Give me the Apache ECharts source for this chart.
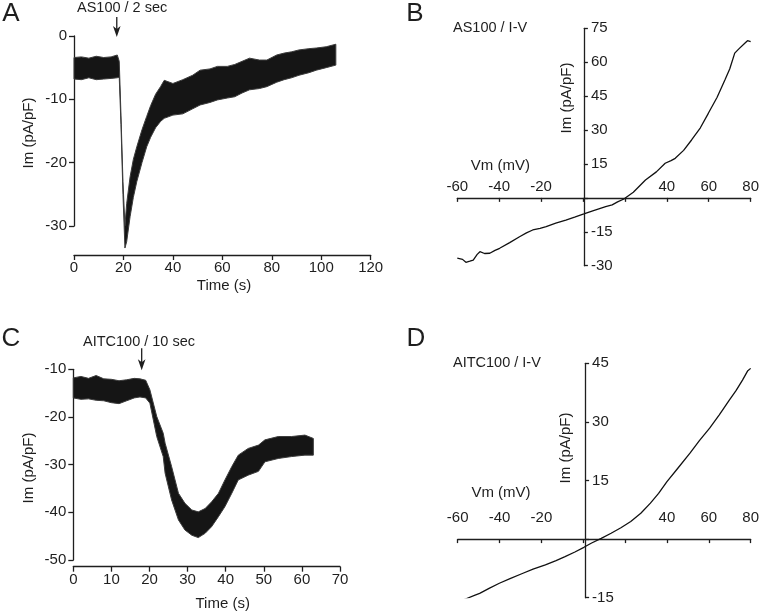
<!DOCTYPE html>
<html><head><meta charset="utf-8">
<script src="https://cdn.jsdelivr.net/npm/echarts@6/dist/echarts.min.js"></script>
<style>html,body{margin:0;padding:0;background:#fff}#c{width:762px;height:612px}</style>
</head><body><div id="c"></div>
<script>
// ---- Panel A: AS100 / 2 sec, noisy current trace (upper / lower envelope of the band)
const timeA = [0, 3, 6, 9, 12, 15, 17.5, 18.3, 19.0, 19.8, 20.6, 21.3, 22.7, 24, 25.4, 27.5, 29.4, 31, 33, 35, 36.5, 40, 44, 48, 51, 55, 58, 62, 65, 68, 71, 75, 78, 82, 85, 88, 91, 95, 98, 102, 105.9];
const hiA   = [-3.4, -3.3, -3.5, -3.2, -3.4, -3.3, -3.0, -4.0, -12.5, -23, -30, -26.5, -22.2, -19.5, -17.5, -14.8, -12.7, -11, -9.2, -8, -7, -7.5, -6.9, -6.2, -5.4, -5.2, -4.8, -4.8, -4.5, -4.0, -3.5, -3.8, -3.8, -3.0, -2.7, -2.5, -2.2, -2.0, -1.9, -1.7, -1.3];
const loA   = [-6.8, -6.9, -6.6, -6.9, -6.8, -6.7, -6.6, -6.5, -14, -25, -33.5, -32.5, -28.5, -25.5, -23, -20, -17.5, -16, -14.5, -13.5, -13, -12.5, -12.3, -11.5, -10.9, -10.5, -10.1, -9.8, -9.6, -9.0, -8.5, -8.3, -8.0, -7.3, -6.9, -6.6, -6.2, -5.8, -5.4, -5.0, -4.6];

// ---- Panel C: AITC100 / 10 sec
const timeC = [0, 2, 4, 6, 8, 10, 12, 14, 16, 17.5, 19.0, 20.1, 21.9, 23.6, 24.1, 25.8, 27.6, 29.3, 31.1, 32.8, 34.6, 36.3, 38.1, 39.8, 41.6, 43.3, 45.9, 48.6, 50.3, 53.8, 57.3, 60.8, 63];
const hiC   = [-11.8, -11.5, -11.9, -11.3, -12.0, -12.1, -12.4, -12.2, -11.9, -12.0, -12.3, -14.3, -19.9, -23.4, -25.5, -30.4, -36, -38.1, -39.5, -39.9, -39.2, -37.8, -36, -33.2, -30.4, -28, -26.6, -25.9, -24.8, -24.1, -24.1, -23.8, -24.5];
const loC   = [-16.0, -16.3, -16.2, -16.5, -16.6, -17.0, -17.2, -16.6, -16.0, -15.8, -16.0, -17.1, -24.1, -28.3, -31.8, -37.4, -41.6, -43.7, -44.8, -45.3, -44.4, -43, -40.9, -38.8, -36, -33.2, -32.2, -31.4, -29.4, -28.7, -28.3, -28, -28];

// ---- Panel B: AS100 / I-V
const vmB = [-60, -57.5, -55.9, -54, -52.4, -50.5, -49.2, -47, -44.5, -42, -39.8, -35, -30.3, -27, -24, -20.5, -17.6, -13, -8.2, -4, 0.4, 5, 10.8, 13.9, 16.5, 19.5, 24, 29.8, 35, 39.2, 42, 44, 48, 51.8, 56, 59.8, 64, 67.7, 70, 72.4, 74.5, 77.2, 78.5, 80];
const imB = [-26.7, -27.2, -28.5, -28, -27.5, -25, -23.8, -24.6, -24.5, -23.2, -22.3, -19.8, -17.2, -15.5, -14.2, -13.5, -12.7, -11.2, -9.8, -8.5, -7.1, -5.6, -3.9, -3.1, -1.8, -0.5, 2.5, 7.9, 11.5, 15.3, 16.5, 17.5, 21, 25.6, 31, 37.4, 44.5, 52.1, 57, 64, 66, 68.4, 69.5, 69.1];

// ---- Panel D: AITC100 / I-V
const vmD = [-60, -57.5, -55.7, -52, -49.5, -45, -40.1, -35, -29.1, -24, -18.1, -13, -8.7, -4, 0.3, 4, 8.6, 13.3, 18, 22.7, 27.5, 32.1, 36, 40, 45, 51, 55.5, 60.4, 65, 69.8, 73, 76.1, 78.5, 80];
const imD = [-16.4, -15.6, -15.2, -14.4, -13.9, -12.6, -11.3, -10.1, -8.8, -7.7, -6.6, -5.5, -4.5, -3.3, -2.1, -1.0, 0.2, 1.5, 2.9, 4.5, 6.6, 9.2, 11.7, 14.7, 18, 22, 25.2, 28.4, 31.8, 35.6, 38, 40.7, 43, 43.7];

// ---- axis ranges
const rangeA = { x: [0, 120, 20], y: [-30, 0, 10], yData: [-34.6, 0] };
const rangeB = { x: [-60, 80, 20], y: [-30, 75, 15] };
const rangeC = { x: [0, 70, 10], y: [-50, -10, 10], yData: [-51.4, -10] };
const rangeD = { x: [-60, 80, 20], y: [-15, 45, 15] };

// ---- text
const panelLetters = ['A', 'B', 'C', 'D'];
const stimA = 'AS100 / 2 sec';
const stimC = 'AITC100 / 10 sec';
const ivB = 'AS100 / I-V';
const ivD = 'AITC100 / I-V';
const yTitle = 'Im (pA/pF)';
const tTitle = 'Time (s)';
const vTitle = 'Vm (mV)';
const arrowTimeA = 17.3;
const arrowTimeC = 17.95;

const FONT = 'Liberation Sans, Arial, Helvetica, sans-serif';
const INK = '#1e1e1e';
const FS = 15;
const AX = { color: INK, width: 1.3 };

const G = {
  A:  { left: 74, top: 36, width: 296.7, height: 219 },
  Ay: { left: 74, top: 36, width: 296.7, height: 190 },
  B:  { left: 457.3, top: 28.3, width: 295.4, height: 237.4 },
  C:  { left: 73.3, top: 369.3, width: 266.7, height: 197.4 },
  Cy: { left: 73.3, top: 369.3, width: 266.7, height: 190.7 },
  D:  { left: 457.7, top: 363.3, width: 297.3, height: 234.4 }
};

// axes crossing at zero: shift the axes to where the other axis is 0 (derived from the scale)
function zeroShiftY(r, g) { return -((0 - r.x[0]) / (r.x[1] - r.x[0])) * g.width; }
function zeroShiftX(r, g) { return -((0 - r.y[0]) / (r.y[1] - r.y[0])) * g.height; }

const lbl = (extra) => Object.assign({ color: INK, fontSize: FS, fontFamily: FONT }, extra || {});
const hideZero = v => v === 0 ? '' : String(v);
const hideZero20 = v => (v === 0 || v === 20) ? '' : String(v);

function bandSeries(xi, yi, ts, hi, lo) {
  return {
    type: 'custom', xAxisIndex: xi, yAxisIndex: yi, clip: false,
    data: ts.map((t, i) => [t, hi[i], lo[i]]),
    encode: { x: 0, y: [1, 2] },
    renderItem: function (params, api) {
      if (params.dataIndex !== 0) return null;
      const top = ts.map((t, i) => api.coord([t, hi[i]]));
      const bot = ts.map((t, i) => api.coord([t, lo[i]])).reverse();
      return { type: 'polygon', shape: { points: top.concat(bot) },
        style: { fill: '#151515', stroke: '#3c3c3c', lineWidth: 1, lineJoin: 'round' } };
    }
  };
}

const chart = echarts.init(document.getElementById('c'), null, { renderer: 'canvas' });

const option = {
  animation: false,
  backgroundColor: '#fff',
  grid: [G.A, G.Ay, G.B, G.C, G.Cy, G.D],
  xAxis: [
    { gridIndex: 0, type: 'value', min: rangeA.x[0], max: rangeA.x[1], interval: rangeA.x[2],
      axisLine: { onZero: false, lineStyle: AX }, axisTick: { length: 5, lineStyle: AX },
      axisLabel: lbl({ margin: 5 }), splitLine: { show: false } },
    { gridIndex: 1, type: 'value', min: rangeA.x[0], max: rangeA.x[1], show: false },
    { gridIndex: 2, type: 'value', min: rangeB.x[0], max: rangeB.x[1], interval: rangeB.x[2],
      offset: zeroShiftX(rangeB, G.B),
      axisLine: { onZero: false, lineStyle: AX }, axisTick: { length: 4, lineStyle: AX },
      axisLabel: lbl({ inside: true, margin: 4, formatter: hideZero20 }), splitLine: { show: false } },
    { gridIndex: 3, type: 'value', min: rangeC.x[0], max: rangeC.x[1], interval: rangeC.x[2],
      axisLine: { onZero: false, lineStyle: AX }, axisTick: { length: 5, lineStyle: AX },
      axisLabel: lbl({ margin: 6 }), splitLine: { show: false } },
    { gridIndex: 4, type: 'value', min: rangeC.x[0], max: rangeC.x[1], show: false },
    { gridIndex: 5, type: 'value', min: rangeD.x[0], max: rangeD.x[1], interval: rangeD.x[2],
      offset: zeroShiftX(rangeD, G.D),
      axisLine: { onZero: false, lineStyle: AX }, axisTick: { length: 4, lineStyle: AX },
      axisLabel: lbl({ inside: true, margin: 14, formatter: hideZero20 }), splitLine: { show: false } }
  ],
  yAxis: [
    { gridIndex: 0, type: 'value', min: rangeA.yData[0], max: rangeA.yData[1], show: false },
    { gridIndex: 1, type: 'value', min: rangeA.y[0], max: rangeA.y[1], interval: rangeA.y[2],
      axisLine: { show: true, onZero: false, lineStyle: AX }, axisTick: { length: 5, lineStyle: AX },
      axisLabel: lbl({ margin: 7 }), splitLine: { show: false } },
    { gridIndex: 2, type: 'value', min: rangeB.y[0], max: rangeB.y[1], interval: rangeB.y[2],
      offset: zeroShiftY(rangeB, G.B),
      axisLine: { show: true, onZero: false, lineStyle: AX }, axisTick: { inside: true, length: 4, lineStyle: AX },
      axisLabel: lbl({ inside: true, margin: 7, formatter: hideZero }), splitLine: { show: false } },
    { gridIndex: 3, type: 'value', min: rangeC.yData[0], max: rangeC.yData[1], show: false },
    { gridIndex: 4, type: 'value', min: rangeC.y[0], max: rangeC.y[1], interval: rangeC.y[2],
      axisLine: { show: true, onZero: false, lineStyle: AX }, axisTick: { length: 5, lineStyle: AX },
      axisLabel: lbl({ margin: 7 }), splitLine: { show: false } },
    { gridIndex: 5, type: 'value', min: rangeD.y[0], max: rangeD.y[1], interval: rangeD.y[2],
      offset: zeroShiftY(rangeD, G.D),
      axisLine: { show: true, onZero: false, lineStyle: AX }, axisTick: { inside: true, length: 4, lineStyle: AX },
      axisLabel: lbl({ inside: true, margin: 7, formatter: hideZero }), splitLine: { show: false } }
  ],
  series: [
    bandSeries(0, 0, timeA, hiA, loA),
    bandSeries(3, 3, timeC, hiC, loC),
    { type: 'line', name: 'B IV', xAxisIndex: 2, yAxisIndex: 2, data: vmB.map((v, i) => [v, imB[i]]), symbol: 'none',
      lineStyle: { color: '#111', width: 1.3 } },
    { type: 'line', name: 'D IV', xAxisIndex: 5, yAxisIndex: 5, data: vmD.map((v, i) => [v, imD[i]]), symbol: 'none',
      lineStyle: { color: '#111', width: 1.3 } }
  ]
};
chart.setOption(option);

function txt(text, x, y, opts) {
  return Object.assign({
    type: 'text', x: x, y: y, silent: true,
    style: Object.assign({ text: text, fill: INK, font: FS + 'px ' + FONT, align: 'center', verticalAlign: 'middle' }, (opts && opts.style) || {})
  }, (opts && opts.el) || {});
}
function arrow(p, len) {
  const x = p[0], tip = p[1];
  return [
    { type: 'line', silent: true, shape: { x1: x, y1: tip - len, x2: x, y2: tip - 6 }, style: { stroke: INK, lineWidth: 1.3 } },
    { type: 'polygon', silent: true, shape: { points: [[x, tip], [x - 3.8, tip - 11], [x, tip - 8], [x + 3.8, tip - 11]] }, style: { fill: INK } }
  ];
}
const pA = chart.convertToPixel({ gridIndex: 0 }, [arrowTimeA, 0]);
const pC = chart.convertToPixel({ gridIndex: 3 }, [arrowTimeC, -10.2]);
const LET = '26px ' + FONT, ANN = '14.5px ' + FONT;

const g = [
  txt(panelLetters[0], 11, 14, { style: { font: LET } }),
  txt(panelLetters[1], 415, 14, { style: { font: LET } }),
  txt(panelLetters[2], 11, 339, { style: { font: LET } }),
  txt(panelLetters[3], 416, 339, { style: { font: LET } }),
  txt(stimA, 77, 8, { style: { align: 'left', font: ANN } }),
  txt(stimC, 83, 341.7, { style: { align: 'left', font: ANN } }),
  txt(ivB, 453, 28.3, { style: { align: 'left', font: ANN } }),
  txt(ivD, 453, 363, { style: { align: 'left', font: ANN } }),
  txt(tTitle, 224, 286),
  txt(tTitle, 222.7, 603.7),
  txt(vTitle, 500.3, 166),
  txt(vTitle, 501, 492.5),
  txt(yTitle, 29, 133, { el: { rotation: Math.PI / 2 } }),
  txt(yTitle, 28.5, 468, { el: { rotation: Math.PI / 2 } }),
  txt(yTitle, 566.5, 98, { el: { rotation: Math.PI / 2 } }),
  txt(yTitle, 566, 448, { el: { rotation: Math.PI / 2 } })
].concat(arrow([pA[0], pA[1] + 1], 20)).concat(arrow([pC[0], pC[1]], 22));

chart.setOption({ graphic: g });
</script>
</body></html>
